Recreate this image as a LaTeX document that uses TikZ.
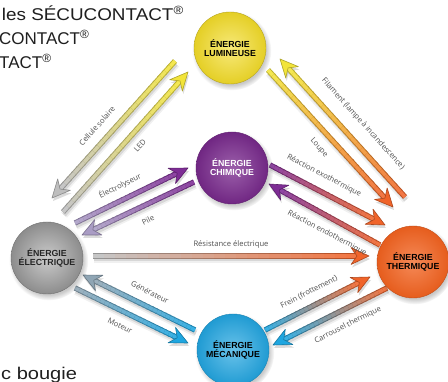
\documentclass[tikz,border=0pt]{standalone}
\usepackage{fontspec}
\setmainfont{Liberation Sans}
\newfontfamily\lblfont{Open Sans}
\usetikzlibrary{calc,shadows}

\definecolor{cyel}{HTML}{F3DC28}
\definecolor{cpur}{HTML}{7A2A8E}
\definecolor{cgry}{HTML}{A0A0A0}
\definecolor{corg}{HTML}{F2621F}
\definecolor{cblu}{HTML}{22A5E0}
\definecolor{ayel}{HTML}{F2E43A}
\definecolor{agry}{HTML}{BEBEBE}
\definecolor{alav}{HTML}{A99CC4}
\definecolor{abgr}{HTML}{8FA5B4}
\definecolor{apur}{HTML}{7E2D95}
\definecolor{aorg}{HTML}{F0642A}
\definecolor{ablu}{HTML}{1FA6E0}
\definecolor{txtg}{HTML}{505050}

\tikzset{
  ball/.style={circle, minimum size=72pt, inner sep=0pt, align=center,
    font=\bfseries\fontsize{8.8}{9.6}\selectfont,
    circular drop shadow={shadow xshift=1.5pt, shadow yshift=-2.5pt, opacity=0.3, fill=black!70}},
  lbl/.style={font=\lblfont\fontsize{7.6}{9}\selectfont, text=txtg, inner sep=0pt},
  toptxt/.style={font=\fontsize{17}{20}\selectfont, text=black!88, inner sep=0pt, anchor=base west},
}

\newcommand\garrow[4]{%
  \coordinate (hN) at ($(#2)!12pt!(#1)$);
  \coordinate (hB) at ($(#2)!18pt!(#1)$);
  \coordinate (hL) at ($(hB)!8.5pt!90:(#2)$);
  \coordinate (hR) at ($(hB)!8.5pt!-90:(#2)$);
  \draw[line width=8pt, black, opacity=0.06] ($(#1)+(1,3)$) -- ($(hN)+(1,3)$);
  \draw[line width=4.5pt, black, opacity=0.10] ($(#1)+(1,3)$) -- ($(hN)+(1,3)$);
  \fill[black, opacity=0.14] ($(#2)+(1,3)$) -- ($(hL)+(1,3)$) -- ($(hN)+(1,3)$) -- ($(hR)+(1,3)$) -- cycle;
  \foreach \k in {0,...,23}{%
    \pgfmathsetmacro\ta{\k/24}%
    \pgfmathsetmacro\tb{min(1,(\k+1.3)/24)}%
    \pgfmathtruncatemacro\pc{round(100-\k*100/23)}%
    \draw[line width=5.4pt, #3!\pc!#4!78!black] ($(#1)!\ta!(hN)$) -- ($(#1)!\tb!(hN)$);
    \draw[line width=3.5pt, #3!\pc!#4!88!white] ($(#1)!\ta!(hN)$) -- ($(#1)!\tb!(hN)$);
  }
  \filldraw[fill=#4, draw=#4!72!black, line width=0.6pt, line join=round] (#2) -- (hL) -- (hN) -- (hR) -- cycle;
}

\begin{document}
\begin{tikzpicture}[x=1pt,y=-1pt]
\useasboundingbox[fill=white] (0,0) rectangle (448,382);

% top-left and bottom-left text
\node[toptxt, anchor=base east] (t1) at (184,21) {\scalebox{1.11}[1]{les SÉCUCONTACT\textsuperscript{®}}};
\node[toptxt] (t2) at (-1,45) {CONTACT\textsuperscript{®}};
\node[toptxt] (t3) at (-1,69) {TACT\textsuperscript{®}};
\node[toptxt] (t4) at (1,380) {\scalebox{1.18}[1]{c bougie}};

% arrow end points
\coordinate (cs1) at (175,61);  \coordinate (cs2) at (52,198);
\coordinate (led1) at (63,212); \coordinate (led2) at (188,72);
\coordinate (lo1) at (268,70);  \coordinate (lo2) at (393,207);
\coordinate (fi1) at (405,197); \coordinate (fi2) at (280,59);
\coordinate (el1) at (75,223);  \coordinate (el2) at (188,168);
\coordinate (pi1) at (194,182); \coordinate (pi2) at (82,235);
\coordinate (ex1) at (270,165); \coordinate (ex2) at (385,225);
\coordinate (en1) at (380,245); \coordinate (en2) at (269,184);
\coordinate (re1) at (93,256);  \coordinate (re2) at (369,256);
\coordinate (ge1) at (195,330); \coordinate (ge2) at (83,275);
\coordinate (mo1) at (75,288);  \coordinate (mo2) at (188,343);
\coordinate (fr1) at (265,330); \coordinate (fr2) at (370,277);
\coordinate (ca1) at (387,288); \coordinate (ca2) at (273,345);

% arrows
\garrow{cs1}{cs2}{ayel}{agry}
\garrow{led1}{led2}{agry}{ayel}
\garrow{lo1}{lo2}{ayel}{aorg}
\garrow{fi1}{fi2}{aorg}{ayel}
\garrow{el1}{el2}{alav}{apur}
\garrow{pi1}{pi2}{apur}{alav}
\garrow{ex1}{ex2}{apur}{aorg}
\garrow{en1}{en2}{aorg}{apur}
\garrow{re1}{re2}{agry}{aorg}
\garrow{ge1}{ge2}{ablu}{abgr}
\garrow{mo1}{mo2}{abgr}{ablu}
\garrow{fr1}{fr2}{ablu}{aorg}
\garrow{ca1}{ca2}{aorg}{ablu}

% circles
\node[ball, inner color=cyel!62!white, outer color=cyel!94!black, draw=cyel!75!black, line width=0.4pt] (lum) at (230,48) {ÉNERGIE\\LUMINEUSE};
\node[ball, inner color=cpur!75!white, outer color=cpur!92!black, draw=cpur!80!black, line width=0.4pt, text=white] (chi) at (232,168) {ÉNERGIE\\CHIMIQUE};
\node[ball, inner color=cgry!55!white, outer color=cgry!88!black, draw=cgry!70!black, line width=0.4pt, text=black!85] (ele) at (47,258) {ÉNERGIE\\ÉLECTRIQUE};
\node[ball, inner color=corg!75!white, outer color=corg!95!black, draw=corg!80!black, line width=0.4pt] (the) at (413,262) {ÉNERGIE\\THERMIQUE};
\node[ball, inner color=cblu!68!white, outer color=cblu!94!black, draw=cblu!80!black, line width=0.4pt] (mec) at (233,350) {ÉNERGIE\\MÉCANIQUE};

% labels
\node[lbl, rotate=48] (lcs) at (97,126) {Cellule solaire};
\node[lbl, rotate=48] (lled) at (140,146) {LED};
\node[lbl, rotate=-48] (lfi) at (363,124) {Filament (lampe à incandescence)};
\node[lbl, rotate=-48] (llo) at (319,148) {Loupe};
\node[lbl, rotate=26] (lel) at (120,186) {Électrolyseur};
\node[lbl, rotate=26] (lpi) at (148,220) {Pile};
\node[lbl, rotate=-27.5] (lex) at (324,176) {Réaction exothermique};
\node[lbl, rotate=-28] (len) at (327,233) {Réaction endothermique};
\node[lbl] (lre) at (231,245) {Résistance électrique};
\node[lbl, rotate=-26] (lge) at (150,292) {Générateur};
\node[lbl, rotate=-26] (lmo) at (120,326) {Moteur};
\node[lbl, rotate=27] (lfr) at (309,292) {Frein (frottement)};
\node[lbl, rotate=27] (lca) at (348,325) {Carrousel thermique};
\end{tikzpicture}
\end{document}
